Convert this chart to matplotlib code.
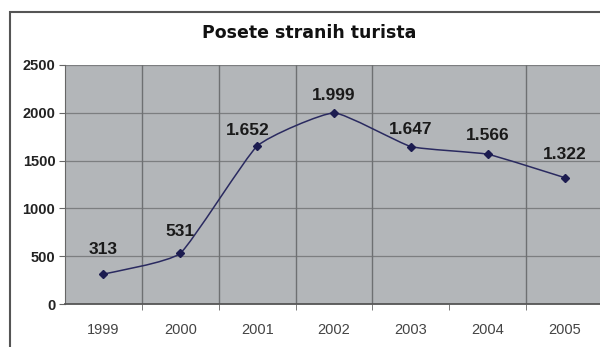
import numpy as np
import matplotlib.pyplot as plt
from matplotlib.path import Path
from matplotlib.patches import PathPatch, Rectangle

years = ['1999', '2000', '2001', '2002', '2003', '2004', '2005']
visitors = [313, 531, 1652, 1999, 1647, 1566, 1322]
labels = ['313', '531', '1.652', '1.999', '1.647', '1.566', '1.322']
y_ticks = [0, 500, 1000, 1500, 2000, 2500]

# label offsets in points (dx, dy) as placed in the original
label_offsets = [(0, 12), (0, 10), (-7, 6), (0, 7), (0, 7), (0, 8), (0, 11)]

plt.rcParams['font.family'] = ['Liberation Sans', 'DejaVu Sans']

fig = plt.figure(figsize=(6, 3.47), dpi=100)
fig.patch.set_facecolor('white')

# outer chart frame
fig.patches.append(Rectangle((10 / 600, -0.05), 1.0, 1 - 12 / 347 + 0.05,
                             transform=fig.transFigure, fill=False,
                             edgecolor='#555555', linewidth=1.5))

ax = fig.add_axes([65 / 600, 1 - 304 / 347, 538 / 600, (304 - 65) / 347])
ax.set_facecolor('#b3b6b9')

x = np.arange(len(years))
ax.set_xlim(-0.5, len(years) - 0.5)
ax.set_ylim(0, 2500)

# horizontal gridlines
for v in y_ticks[1:]:
    ax.axhline(v, color='#7c7e80', linewidth=0.9, zorder=1)
# vertical gridlines at category boundaries (one missing in the original)
for b in [0.5, 1.5, 2.5, 3.5, 5.5]:
    ax.axvline(b, color='#6e7072', linewidth=1.0, zorder=1)

# lightly smoothed line (Bezier through the data points)
pts = np.column_stack([x, visitors]).astype(float)
ext = np.vstack([pts[0], pts, pts[-1]])
verts = [tuple(pts[0])]
codes = [Path.MOVETO]
k = 1 / 14
for i in range(len(pts) - 1):
    p0, p1, p2, p3 = ext[i], ext[i + 1], ext[i + 2], ext[i + 3]
    c1 = p1 + (p2 - p0) * k
    c2 = p2 - (p3 - p1) * k
    verts += [tuple(c1), tuple(c2), tuple(p2)]
    codes += [Path.CURVE4] * 3
ax.add_patch(PathPatch(Path(verts, codes), facecolor='none',
                       edgecolor='#2a2a60', linewidth=1.1, zorder=3))
ax.plot(x, visitors, linestyle='none', marker='D', markersize=4,
        color='#1c1c50', zorder=4)

for xi, v, lab, off in zip(x, visitors, labels, label_offsets):
    ax.annotate(lab, (xi, v), xytext=off, textcoords='offset points',
                ha='center', va='bottom', fontsize=12.5, fontweight='bold',
                color='#1a1a1a')

ax.set_yticks(y_ticks)
ax.set_yticklabels([str(t) for t in y_ticks], fontsize=10.5,
                   fontweight='bold', color='#222222')
ax.set_xticks(x)
ax.set_xticklabels(years, fontsize=10.5, color='#444444')
ax.set_xticks([0.5, 1.5, 2.5, 3.5, 4.5, 5.5], minor=True)
ax.tick_params(axis='x', which='major', length=0, pad=14)
ax.tick_params(axis='x', which='minor', length=4, color='#666666')
ax.tick_params(axis='y', length=4, color='#666666', pad=3)

for side in ['top', 'right']:
    ax.spines[side].set_visible(False)
ax.spines['left'].set_color('#666666')
ax.spines['bottom'].set_color('#555555')
ax.spines['bottom'].set_linewidth(1.3)

fig.text(309 / 600, 1 - 33 / 347, 'Posete stranih turista', ha='center',
         va='center', fontsize=12.5, fontweight='bold', color='#111111',
         family='DejaVu Sans')

fig.savefig('out.png', dpi=100)
